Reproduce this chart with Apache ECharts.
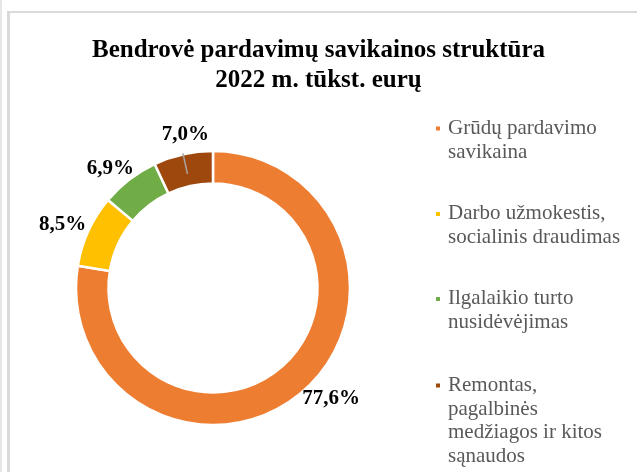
<!DOCTYPE html>
<html>
<head>
<meta charset="utf-8">
<script src="https://cdn.jsdelivr.net/npm/echarts@6/dist/echarts.min.js"></script>
<style>
  body { margin: 0; background: #fff; }
  #wrap { position: relative; width: 637px; height: 472px; overflow: hidden; }
  .edge { position: absolute; left: 0; top: 0; width: 2px; height: 472px; background: #e6e6e6; }
  .frame { position: absolute; left: 7px; top: 11px; width: 700px; height: 500px;
           border-left: 3px solid #d9d9d9; border-top: 2px solid #d9d9d9; }
  #main { position: absolute; left: 0; top: 0; width: 637px; height: 472px; }
</style>
</head>
<body>
<div id="wrap">
  <div class="edge"></div>
  <div class="frame"></div>
  <div id="main"></div>
</div>
<script>
// pardavimu savikainos struktura, %
const categories = [
  'Grūdų pardavimo\nsavikaina',
  'Darbo užmokestis,\nsocialinis draudimas',
  'Ilgalaikio turto\nnusidėvėjimas',
  'Remontas,\npagalbinės\nmedžiagos ir kitos\nsąnaudos'
]
const shares = [77.6, 8.5, 6.9, 7.0]
const colors = ['#ED7D31', '#FFC000', '#70AD47', '#9E480E']

const serif = '"Liberation Serif", "Times New Roman", serif'
const lh = 23.5
// vidurys pirmos legendos eilutes
const legendRows = [128.6, 213.9, 298.9, 385.6]
// etikeciu postumiai
const labelShift = [[38, 16], [-38, -12], [-27, -21], [31, -19]]
const withLine = 3   // tik paskutine etikete turi linija

var myChart = echarts.init(document.getElementById('main'))

let legends = categories.map((name, i) => {
  let n = name.split('\n').length
  return {
    orient: 'vertical',
    left: 434,
    top: legendRows[i] - (n - 0.5) * lh,
    padding: 0,
    icon: 'rect',
    itemWidth: 6,
    itemHeight: 6,
    selectedMode: false,
    // tuscios eilutes virsuje, kad zymeklis butu ties pirma eilute
    formatter: nm => '\n'.repeat(n - 1) + nm,
    textStyle: {
      fontFamily: serif,
      fontSize: 21,
      lineHeight: lh,
      color: '#595959',
      padding: [0, 0, 0, 2],
      backgroundColor: 'transparent'
    },
    data: [name]
  }
})

let labelStyle = {
  fontFamily: serif,
  fontSize: 21,
  fontWeight: 'bold',
  color: '#000',
  formatter: p => p.value.toFixed(1).replace('.', ',') + '%'
}

var option = {
  color: colors,
  animation: false,
  title: {
    text: 'Bendrovė pardavimų savikainos struktūra\n2022 m. tūkst. eurų',
    left: 'center',
    top: 31,
    textStyle: {
      fontFamily: serif,
      fontSize: 25,
      fontWeight: 'bold',
      lineHeight: 30,
      color: '#000'
    }
  },
  legend: legends,
  series: [
    {
      type: 'pie',
      center: [213, 288],
      radius: [104.5, 137],
      startAngle: 90,
      clockwise: true,
      avoidLabelOverlap: false,
      itemStyle: { borderColor: '#fff', borderWidth: 2.5 },
      label: Object.assign({ position: 'inside' }, labelStyle),
      labelLine: { show: false },
      labelLayout: function (p) {
        let s = labelShift[p.dataIndex]
        return { dx: s[0], dy: s[1] }
      },
      data: shares.map((v, i) => ({
        value: v,
        name: categories[i],
        label: { show: i !== withLine }
      }))
    },
    {
      // nematomas ziedas, is kurio vidaus iseina etiketes linija
      type: 'pie',
      z: 5,
      center: [213, 288],
      radius: [116, 117],
      startAngle: 90,
      clockwise: true,
      silent: true,
      avoidLabelOverlap: false,
      itemStyle: { color: 'transparent', borderWidth: 0 },
      label: Object.assign({ position: 'outside' }, labelStyle),
      labelLine: { length: 21, length2: 0, lineStyle: { color: '#a6a6a6', width: 1.5 } },
      labelLayout: function (p) {
        let s = labelShift[p.dataIndex]
        return { dx: s[0], dy: s[1] }
      },
      data: shares.map((v, i) => ({
        value: v,
        name: categories[i],
        label: { show: i === withLine },
        labelLine: { show: i === withLine }
      }))
    }
  ]
}

myChart.setOption(option)
</script>
</body>
</html>
